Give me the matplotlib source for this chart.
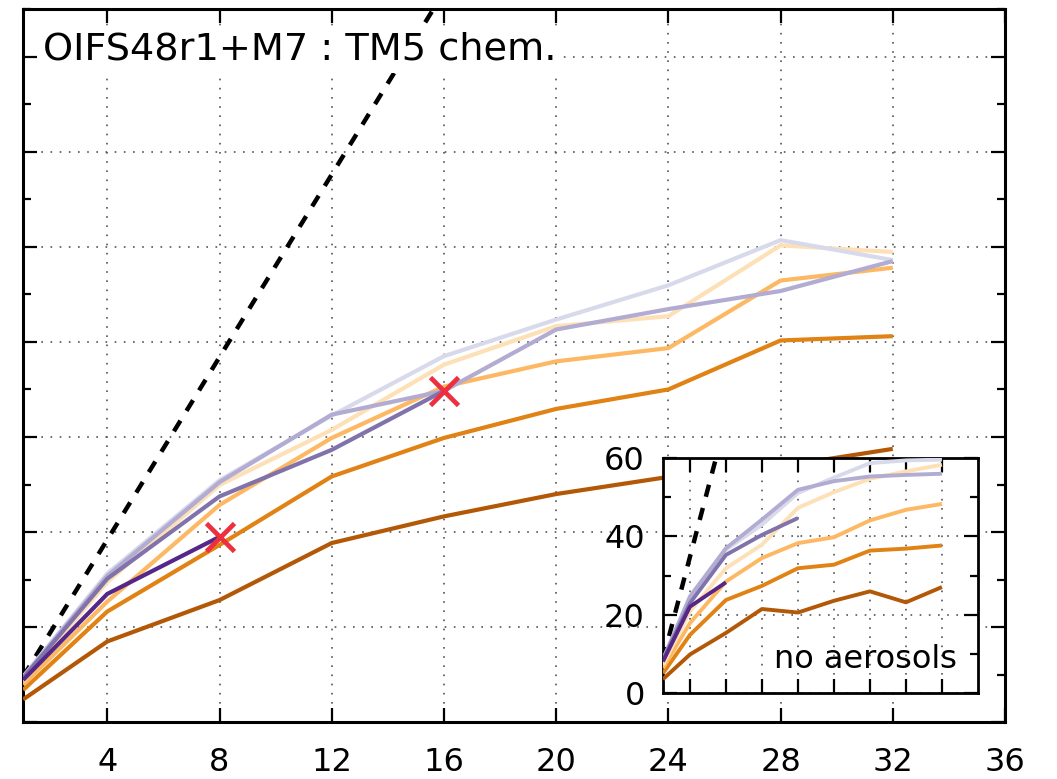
import matplotlib
matplotlib.use('Agg')
import matplotlib.pyplot as plt
from matplotlib.ticker import MultipleLocator, FixedLocator

# ---------------- data ----------------
nodes = [1, 4, 8, 12, 16, 20, 24, 28, 32]
xtick_values = [4, 8, 12, 16, 20, 24, 28, 32, 36]
xtick_labels = ['4', '8', '12', '16', '20', '24', '28', '32', '36']
inset_yticks = [0, 20, 40, 60]
inset_ytick_labels = ['0', '20', '40', '60']

colors = ['#b35806', '#e08214', '#fdb863', '#fee0b6',
          '#d8daeb', '#b2abd2', '#8073ac', '#542788']

# main panel (OIFS48r1+M7 : TM5 chem.)
main_s1 = [4.8, 17.0, 25.7, 37.7, 43.3, 48.0, 51.6, 53.8, 57.5]
main_s2 = [6.8, 23.3, 37.3, 51.7, 59.8, 65.9, 70.0, 80.3, 81.2]
main_s3 = [7.9, 25.4, 45.7, 59.8, 70.6, 75.9, 78.7, 92.9, 95.6]
main_s4 = [8.6, 29.5, 49.9, 61.5, 75.2, 83.3, 85.4, 100.3, 98.9]
main_s5 = [9.6, 31.3, 50.9, 64.5, 77.0, 84.7, 91.9, 101.4, 97.2]
main_s6 = [9.5, 30.8, 50.5, 64.7, 69.7, 82.6, 86.9, 90.7, 97.0]
main_s7 = [9.3, 30.2, 47.5, 57.3, 69.7]
main_s8 = [8.9, 27.0, 39.0]

# inset panel (no aerosols)
ins_s1 = [3.6, 9.9, 15.4, 21.5, 20.6, 23.6, 26.0, 23.2, 27.1]
ins_s2 = [5.1, 14.9, 23.8, 27.4, 31.9, 32.8, 36.4, 36.9, 37.7]
ins_s3 = [6.4, 17.9, 28.5, 34.5, 38.3, 39.8, 44.1, 46.8, 48.3]
ins_s4 = [7.2, 20.9, 31.9, 37.9, 47.3, 51.3, 54.7, 56.6, 58.3]
ins_s5 = [8.5, 23.4, 36.6, 43.0, 51.1, 55.0, 58.7, 59.4, 59.6]
ins_s6 = [8.7, 24.7, 37.0, 44.3, 51.9, 54.1, 55.3, 55.7, 56.0]
ins_s7 = [8.5, 23.0, 35.3, 40.4, 44.7]
ins_s8 = [8.1, 22.1, 28.3]

# ideal-scaling reference lines
ideal_nodes = [1, 16]
ideal_main = [9.6, 153.6]
ideal_inset = [8.7, 139.2]

# red crosses
cross_nodes = [8, 16]
cross_values = [39.0, 69.7]

main_series = [main_s1, main_s2, main_s3, main_s4, main_s5, main_s6, main_s7, main_s8]
ins_series = [ins_s1, ins_s2, ins_s3, ins_s4, ins_s5, ins_s6, ins_s7, ins_s8]

# ---------------- figure ----------------
fig = plt.figure(figsize=(10.57, 7.79), dpi=100)
ax = fig.add_axes([0.0219, 0.0728, 0.9289, 0.9156])

grid_kw = dict(color='#555555', linewidth=1.2, linestyle=(0, (1, 4.5)))
dash_style = (0, (2.8, 2.6))

def style_axes(a, lw_spine=2.2):
    for sp in a.spines.values():
        sp.set_linewidth(lw_spine)
    a.tick_params(which='both', direction='in', top=True, right=True,
                  width=1.6, color='black')
    a.tick_params(which='major', length=10)
    a.tick_params(which='minor', length=5.5)

# main
ax.plot(ideal_nodes, ideal_main, color='black', lw=3.2,
        linestyle=dash_style, zorder=3)
for vals, c in zip(main_series, colors):
    ax.plot(nodes[:len(vals)], vals, color=c, lw=3.0, zorder=4,
            solid_capstyle='butt')
ax.plot(cross_nodes, cross_values, linestyle='none', marker='x',
        markersize=20, markeredgewidth=3.4, color='#ec3040', zorder=6)

ax.set_xlim(1, 36)
ax.set_ylim(0, 150)
ax.xaxis.set_major_locator(FixedLocator(xtick_values))
ax.set_xticklabels(xtick_labels)
ax.yaxis.set_major_locator(MultipleLocator(20))
ax.yaxis.set_minor_locator(MultipleLocator(10))
ax.grid(True, which='major', **grid_kw)
style_axes(ax)
ax.tick_params(axis='x', labelsize=23, pad=18)
ax.tick_params(axis='y', labelleft=False)

ax.text(0.020, 0.9295, 'OIFS48r1+M7 : TM5 chem.', transform=ax.transAxes,
        fontsize=27.5, ha='left', va='baseline', zorder=10,
        bbox=dict(facecolor='white', edgecolor='none', pad=4))

# inset
axi = fig.add_axes([0.6272, 0.110, 0.298, 0.302])
axi.set_facecolor('white')
axi.plot(ideal_nodes, ideal_inset, color='black', lw=3.2,
         linestyle=dash_style, zorder=3)
for vals, c in zip(ins_series, colors):
    axi.plot(nodes[:len(vals)], vals, color=c, lw=2.8, zorder=4,
             solid_capstyle='butt')
axi.set_xlim(1, 36)
axi.set_ylim(0, 60)
axi.xaxis.set_major_locator(FixedLocator(nodes[1:]))
axi.set_yticks(inset_yticks)
axi.set_yticklabels(inset_ytick_labels)
axi.yaxis.set_minor_locator(MultipleLocator(10))
axi.grid(True, which='major', **grid_kw)
style_axes(axi, lw_spine=2.0)
axi.tick_params(axis='x', labelbottom=False)
axi.tick_params(axis='y', labelsize=23, pad=13)
axi.text(0.933, 0.107, 'no aerosols', transform=axi.transAxes,
         fontsize=23, ha='right', va='baseline', zorder=10)

fig.savefig('out.png', dpi=100)
